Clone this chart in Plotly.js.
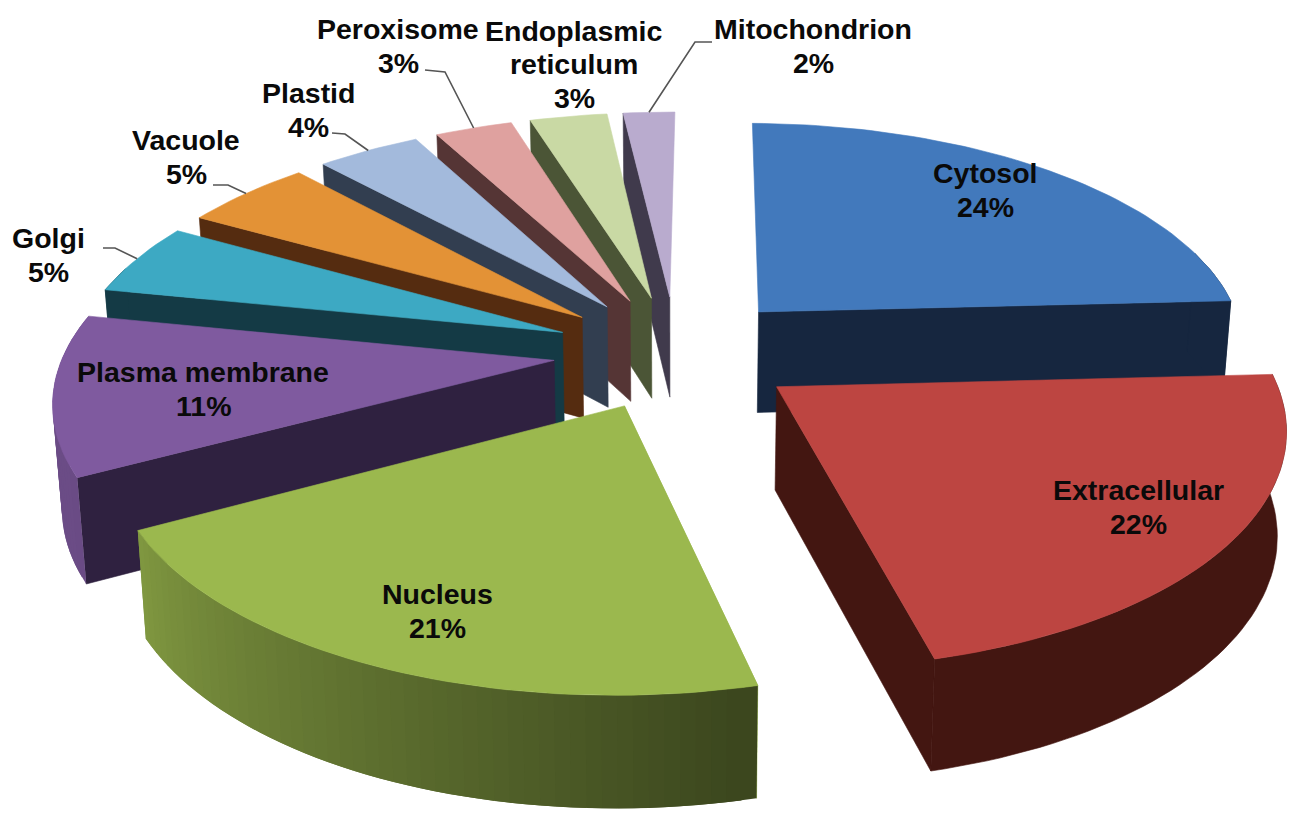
<!DOCTYPE html>
<html>
<head>
<meta charset="utf-8">
<script src="https://cdn.plot.ly/plotly-3.0.1.min.js"></script>
<style>html,body{margin:0;padding:0;background:#fff}</style>
</head>
<body>
<div id="chart" style="width:1291px;height:814px"></div>
<script>
// Subcellular localisation shares, clockwise from just past twelve o'clock
const categories = ['Cytosol','Extracellular','Nucleus','Plasma membrane','Golgi','Vacuole','Plastid','Peroxisome','Endoplasmic reticulum','Mitochondrion'];
const shares = [24,22,21,11,5,5,4,3,3,2];
const labelLines = [['Cytosol'],['Extracellular'],['Nucleus'],['Plasma membrane'],['Golgi'],['Vacuole'],['Plastid'],['Peroxisome'],['Endoplasmic','reticulum'],['Mitochondrion']];

// Face colours per slice
const topColors  = ['#4279BC','#BD4541','#9BB84E','#7F5A9F','#3DA9C3','#E39236','#A3BADC','#DFA19F','#C9D9A4','#B9ABCE'];
const sideColors = ['#16263F','#431611','#9BB84E','#2F2140','#143A45','#552C10','#323E50','#553535','#4B5536','#403A4C'];
// Slices whose rim is lit by angle rather than flat
const shadedRims = [2,3];

// Label block centres on the page
const labelX = [985,1138,437,203,48,186,308,398,574,813];
const labelY = [190,507,611,389,255,157,110,46,64,46];
const lineGap = 33.5;

// Leader elbows for the labels that sit outside their slices
const leaderStart = {4:[103,248,115,248],5:[213,185,228,185],6:[332,133,345,134],7:[425,70,445,72],9:[712,42,695,42]};

// Projection of the tilted pie onto the page
const cx = 676, cy = 352, H = 490, V = 228, persp = 0.15;
const explode = 0.25, depth = 102, depthPersp = 0.08, baseShrink = 0.985, startAngle = 0.6;

function topPoint(x, y) {
  const d = 1 + persp * y;
  return [cx + H * x / d, cy - V * y / d];
}
function basePoint(x, y) {
  const d = 1 + persp * y;
  return [cx + baseShrink * H * x / d, cy - V * y / d + depth / (1 + depthPersp * y)];
}
const rad = a => a * Math.PI / 180;

function hexToRgb(h) { return [1,3,5].map(i => parseInt(h.substr(i,2),16)); }
function shade(hex, f) {
  return 'rgb(' + hexToRgb(hex).map(c => Math.round(c * f)).join(',') + ')';
}
// Rim brightness: dark on the lower right, lighter as the rim turns to the left
function rimShade(a) {
  if (a <= 166) return 0.38;
  if (a >= 243) return 0.84;
  return 0.38 + (a - 166) / 77 * 0.46;
}

const traces = [];
function addPoly(points, color, lineWidth) {
  const xs = points.map(p => p[0]), ys = points.map(p => p[1]);
  xs.push(xs[0]); ys.push(ys[0]);
  traces.push({type:'scatter', mode:'lines', x:xs, y:ys, fill:'toself', fillcolor:color,
    line:{color:color, width:lineWidth === undefined ? 0.6 : lineWidth}, hoverinfo:'skip', showlegend:false});
}

// Angular span of every slice
const total = shares.reduce((a,b) => a + b, 0);
let running = 0;
const slices = shares.map((v,i) => {
  const a0 = startAngle + running / total * 360;
  running += v;
  const a1 = startAngle + running / total * 360;
  const mid = (a0 + a1) / 2;
  return {i, a0, a1, mid, ox: explode * Math.sin(rad(mid)), oy: explode * Math.cos(rad(mid))};
});

function drawSlice(s) {
  const rim = a => [s.ox + Math.sin(rad(a)), s.oy + Math.cos(rad(a))];
  const steps = Math.max(6, Math.round((s.a1 - s.a0) / 1.5));
  const angles = [];
  for (let n = 0; n <= steps; n++) angles.push(s.a0 + (s.a1 - s.a0) * n / steps);

  // The cut face that looks towards the viewer
  const r = rim(s.mid < 180 ? s.a1 : s.a0);
  addPoly([topPoint(s.ox,s.oy), topPoint(r[0],r[1]), basePoint(r[0],r[1]), basePoint(s.ox,s.oy)], sideColors[s.i]);

  // Rim
  if (shadedRims.includes(s.i)) {
    // Overlapping strips, painted in angle order, keep the gradient free of seams
    for (let n = steps - 1; n >= 0; n--) {
      const p = rim(angles[n]), q = rim(angles[Math.min(n + 2, steps)]);
      const m = angles[n] + (s.a1 - s.a0) / steps / 2;
      addPoly([topPoint(p[0],p[1]), topPoint(q[0],q[1]), basePoint(q[0],q[1]), basePoint(p[0],p[1])],
              shade(topColors[s.i], rimShade(m)), 0);
    }
  } else {
    // Only the part of the rim that faces the viewer is drawn
    const front = angles.filter(a => Math.cos(rad(a)) < 0.3);
    if (front.length > 1) {
      const upper = front.map(a => { const c = rim(a); return topPoint(c[0],c[1]); });
      const lower = front.slice().reverse().map(a => { const c = rim(a); return basePoint(c[0],c[1]); });
      addPoly(upper.concat(lower), sideColors[s.i]);
    }
  }

  // Top face
  const outline = [topPoint(s.ox,s.oy)].concat(angles.map(a => { const c = rim(a); return topPoint(c[0],c[1]); }));
  addPoly(outline, topColors[s.i]);
}

// Painter's order: far slices first, the front ones last
[9,8,7,6,5,4,3,0,1,2].forEach(i => drawSlice(slices[i]));

// Leader lines run from each elbow to the middle of the slice rim
Object.keys(leaderStart).forEach(k => {
  const s = slices[k], e = leaderStart[k];
  const end = topPoint(s.ox + Math.sin(rad(s.mid)), s.oy + Math.cos(rad(s.mid)));
  traces.push({type:'scatter', mode:'lines', x:[e[0],e[2],end[0]], y:[e[1],e[3],end[1]],
    line:{color:'#555555', width:1.6}, hoverinfo:'skip', showlegend:false});
});

// One annotation per text line so the line spacing can be set directly
const annotations = [];
categories.forEach((c,i) => {
  const lines = labelLines[i].concat(shares[i] + '%');
  lines.forEach((t,n) => annotations.push({
    x: labelX[i], y: labelY[i] + (n - (lines.length - 1) / 2) * lineGap, xref:'x', yref:'y',
    showarrow:false, xanchor:'center', yanchor:'middle', align:'center', text:t,
    font:{family:'"Liberation Sans", Arial, sans-serif', size:28.5, color:'#0a0a0a', weight:700}
  }));
});

Plotly.newPlot('chart', traces, {
  width:1291, height:814,
  margin:{l:0,r:0,t:0,b:0},
  paper_bgcolor:'#ffffff', plot_bgcolor:'#ffffff',
  xaxis:{range:[0,1291], visible:false, fixedrange:true},
  yaxis:{range:[814,0], visible:false, fixedrange:true},
  showlegend:false,
  annotations
}, {displayModeBar:false, staticPlot:true});
</script>
</body>
</html>
